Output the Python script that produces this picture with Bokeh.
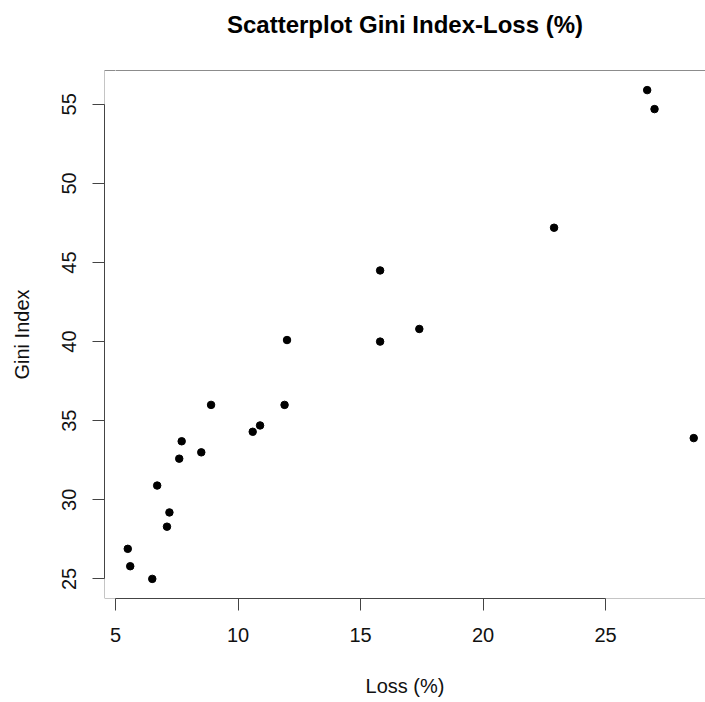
from bokeh.plotting import figure
from bokeh.models import Range1d, Span, FixedTicker, LinearAxis
from bokeh.embed import file_html
from bokeh.resources import INLINE

# ---- data ----
loss = [5.5, 5.6, 6.5, 6.7, 7.1, 7.2, 7.6, 7.7, 8.5, 8.9, 10.6, 10.9,
        11.9, 12.0, 15.8, 15.8, 17.4, 22.9, 26.7, 27.0, 28.6]
gini = [26.9, 25.8, 25.0, 30.9, 28.3, 29.2, 32.6, 33.7, 33.0, 36.0, 34.3, 34.7,
        36.0, 40.1, 44.5, 40.0, 40.8, 47.2, 55.9, 54.7, 33.9]
x_ticks = [5, 10, 15, 20, 25]
y_ticks = [25, 30, 35, 40, 45, 50, 55]

title_text = "Scatterplot Gini Index-Loss (%)"
x_title = "Loss (%)"
y_title = "Gini Index"

FONT = "Liberation Sans"

W, H = 705, 702
LEFT, RIGHT, TOP, BOTTOM = 104, 0, 70, 104
frame_w = W - LEFT - RIGHT
px_per_x = 24.5
x0 = 4.55
y0, y1 = 23.76, 57.14

p = figure(width=W, height=H, output_backend="svg", toolbar_location=None,
           x_range=Range1d(x0, x0 + frame_w / px_per_x),
           y_range=Range1d(y0, y1),
           min_border_left=LEFT, min_border_right=RIGHT,
           min_border_top=TOP, min_border_bottom=BOTTOM,
           background_fill_color="white", border_fill_color="white")
p.outline_line_color = None
p.grid.visible = False

bottom_axis = p.below[0]
left_axis = p.left[0]

box_col = "#8c8c8c"

# top side of the box, also used as an invisible spacer below the title
top_axis = LinearAxis(ticker=FixedTicker(ticks=[x_ticks[0]]), major_tick_out=26, major_tick_in=0,
                      major_label_standoff=0, minor_tick_line_color=None,
                      major_label_overrides={x_ticks[0]: ""},
                      major_label_text_font_size="1px",
                      major_tick_line_color="white", axis_line_color=box_col)
p.add_layout(top_axis, "above")

p.title.text = title_text
p.title.align = "center"
p.title.vertical_align = "top"
p.title.text_font = FONT
p.title.text_font_size = "24px"
p.title.text_font_style = "bold"
p.title.text_color = "#000000"
p.title.standoff = 10

p.scatter(loss, gini, size=7.5, color="black")

# box (R's box(), drawn as light lines on the visible sides)
p.add_layout(Span(location=y0, dimension="width", line_color=box_col, line_width=1, level="underlay"))
p.add_layout(Span(location=x0, dimension="height", line_color=box_col, line_width=1, level="underlay"))

axis_col = "#444444"
for ax, ticks in ((bottom_axis, x_ticks), (left_axis, y_ticks)):
    ax.ticker = FixedTicker(ticks=ticks)
    ax.bounds = (ticks[0], ticks[-1])
    ax.axis_line_color = axis_col
    ax.major_tick_line_color = axis_col
    ax.major_tick_out = 12
    ax.major_tick_in = 0
    ax.minor_tick_line_color = None
    ax.major_label_text_font = FONT
    ax.major_label_text_font_size = "20px"
    ax.major_label_text_color = "#111111"
    ax.axis_label_text_font = FONT
    ax.axis_label_text_font_size = "20px"
    ax.axis_label_text_font_style = "normal"
    ax.axis_label_text_color = "#111111"

bottom_axis.major_label_standoff = 17
left_axis.major_label_standoff = 16
left_axis.major_label_orientation = "vertical"

bottom_axis.axis_label = x_title
bottom_axis.axis_label_standoff = 30
left_axis.axis_label = y_title
left_axis.axis_label_standoff = 27

open("out.html", "w").write(file_html(p, INLINE))
